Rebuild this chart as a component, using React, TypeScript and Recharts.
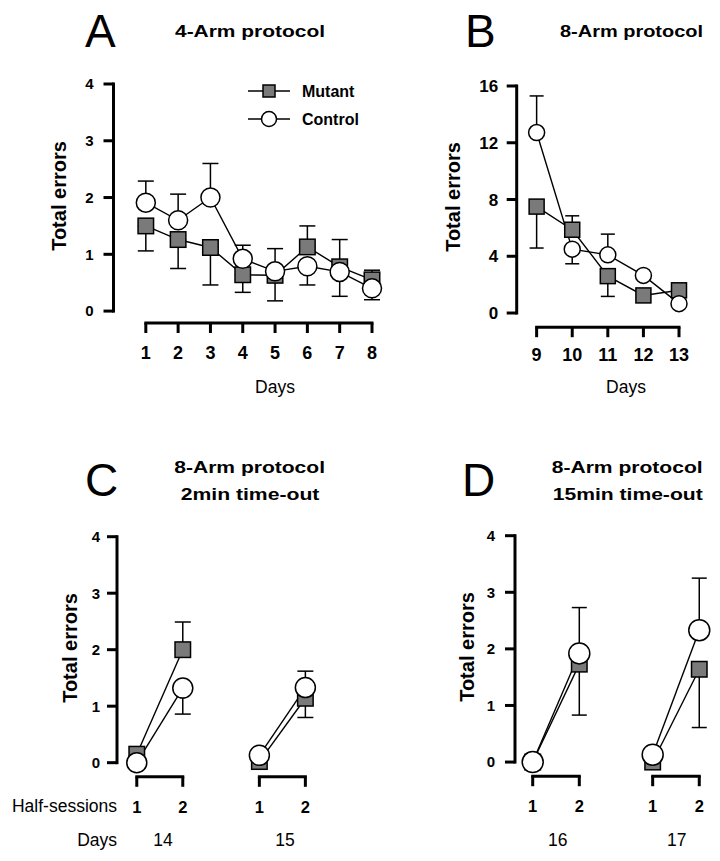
import React from "react"
import { LineChart, Line, XAxis, YAxis, ErrorBar, ReferenceLine } from "recharts"

const FONT = "'Liberation Sans', Arial, Helvetica, sans-serif"

// A: 4-arm protocol, days 1-8 (dir: 1 = bar drawn up, -1 = down, 0 = none)
const daysA = [1, 2, 3, 4, 5, 6, 7, 8]
const mutantA = [1.5, 1.26, 1.12, 0.64, 0.63, 1.13, 0.78, 0.55]
const mutantSemA = [0.44, 0.51, 0.66, 0.31, 0.45, 0.37, 0.48, 0.17]
const mutantDirA = [-1, -1, -1, -1, -1, 1, 1, 1]
const controlA = [1.91, 1.6, 2.0, 0.92, 0.7, 0.79, 0.69, 0.4]
const controlSemA = [0.38, 0.46, 0.6, 0.24, 0.4, 0.33, 0.43, 0.2]
const controlDirA = [1, 1, 1, 1, 1, -1, -1, -1]
const yTicksA = [0, 1, 2, 3, 4]

// B: 8-arm protocol, days 9-13
const daysB = [9, 10, 11, 12, 13]
const mutantB = [7.5, 5.87, 2.6, 1.24, 1.6]
const mutantSemB = [2.92, 0.98, 1.43, 0, 0]
const mutantDirB = [-1, 1, -1, 0, 0]
const controlB = [12.72, 4.5, 4.1, 2.65, 0.66]
const controlSemB = [2.58, 1.03, 1.46, 0, 0]
const controlDirB = [1, -1, 1, 0, 0]
const yTicksB = [0, 4, 8, 12, 16]

// C: 2min time-out, days 14-15, half-sessions 1-2
const halves = [1, 2]
const daysC = [14, 15]
const mutantC = [[0.15, 2.0], [0.02, 1.14]]
const mutantSemC = [[0, 0.49], [0, 0.34]]
const mutantDirC = [[0, 1], [0, -1]]
const controlC = [[0, 1.32], [0.13, 1.33]]
const controlSemC = [[0, 0.46], [0, 0.29]]
const controlDirC = [[0, -1], [0, 1]]

// D: 15min time-out, days 16-17
const daysD = [16, 17]
const mutantD = [[0, 1.73], [0, 1.64]]
const mutantSemD = [[0, 0.9], [0, 1.03]]
const mutantDirD = [[0, -1], [0, -1]]
const controlD = [[0, 1.92], [0.13, 2.33]]
const controlSemD = [[0, 0.81], [0, 0.92]]
const controlDirD = [[0, 1], [0, 1]]
const yTicksCD = [0, 1, 2, 3, 4]

type Row = { x: number; mutant: number; control: number; mutErr: number[] | null; ctlErr: number[] | null }

const errPair = (sem: number, dir: number) => (!sem || !dir ? null : dir > 0 ? [0, sem] : [sem, 0])

const rowsAB = (days: number[], m: number[], ms: number[], md: number[], c: number[], cs: number[], cd: number[]): Row[] =>
  days.map((d, i) => ({
    x: d,
    mutant: m[i],
    control: c[i],
    mutErr: errPair(ms[i], md[i]),
    ctlErr: errPair(cs[i], cd[i]),
  }))

// broken half-session axis: position = offset + dayIndex * step + (half - 1)
const halfPos = (offset: number, step: number) => (g: number, h: number) => offset + g * step + (h - 1)

const groupsCD = (
  days: number[], pos: (g: number, h: number) => number,
  m: number[][], ms: number[][], md: number[][], c: number[][], cs: number[][], cd: number[][]
): Row[][] =>
  days.map((_, g) =>
    halves.map((h, j) => ({
      x: pos(g, h),
      mutant: m[g][j],
      control: c[g][j],
      mutErr: errPair(ms[g][j], md[g][j]),
      ctlErr: errPair(cs[g][j], cd[g][j]),
    }))
  )

const posC = halfPos(0.43, 2.665)
const posD = halfPos(0.38, 2.575)

const squareDot = (s: number) => (p: any) => {
  if (p.cx == null || p.cy == null) return <g key={`e-${p.index}`} />
  return (
    <rect key={`sq-${p.index}`} x={p.cx - s / 2} y={p.cy - s / 2} width={s} height={s}
      fill="#7a7a7a" stroke="#000" strokeWidth={1.5} />
  )
}

type PanelProps = {
  left: number; top: number; width: number; height: number
  margin: { top: number; right: number; bottom: number; left: number }
  xDomain: [number, number]; yDomain: [number, number]
  xTicks: number[]; yTicks: number[]
  xLabel?: (v: number) => string
  xFont: number; xMargin: number; yFont: number; yMargin: number
  groups: Row[][]
  brackets: [number, number][]
  square: number; radius: number; cap: number
}

function Panel(p: PanelProps) {
  const tickLine = { stroke: "#000", strokeWidth: 3 }
  const yTop = p.yTicks[p.yTicks.length - 1]
  return (
    <div style={{ position: "absolute", left: p.left, top: p.top }}>
      <LineChart width={p.width} height={p.height} margin={p.margin}>
        <XAxis type="number" dataKey="x" domain={p.xDomain} ticks={p.xTicks} interval={0}
          axisLine={false} tickLine={tickLine} tickSize={10} tickMargin={p.xMargin}
          tickFormatter={p.xLabel} height={40}
          tick={{ fill: "#000", fontSize: p.xFont, fontWeight: 700, fontFamily: FONT }} />
        <YAxis type="number" domain={p.yDomain} ticks={p.yTicks} interval={0}
          axisLine={false} tickLine={tickLine} tickSize={10} tickMargin={p.yMargin} width={60}
          tick={{ fill: "#000", fontSize: p.yFont, fontWeight: 700, fontFamily: FONT }} />
        <ReferenceLine ifOverflow="visible" stroke="#000" strokeWidth={3} strokeLinecap="square"
          segment={[{ x: p.xDomain[0], y: p.yTicks[0] }, { x: p.xDomain[0], y: yTop }]} />
        {p.brackets.map(([a, b], i) => (
          <ReferenceLine key={`br-${i}`} ifOverflow="visible" stroke="#000" strokeWidth={3} strokeLinecap="square"
            segment={[{ x: a, y: p.yDomain[0] }, { x: b, y: p.yDomain[0] }]} />
        ))}
        {p.groups.map((g, i) => (
          <Line key={`m-${i}`} data={g} dataKey="mutant" stroke="#000" strokeWidth={1.4}
            isAnimationActive={false} activeDot={false} dot={squareDot(p.square)}>
            <ErrorBar dataKey="mutErr" direction="y" width={p.cap} stroke="#000" strokeWidth={1.5} isAnimationActive={false} />
          </Line>
        ))}
        {p.groups.map((g, i) => (
          <Line key={`c-${i}`} data={g} dataKey="control" stroke="#000" strokeWidth={1.4}
            isAnimationActive={false} activeDot={false}
            dot={{ r: p.radius, fill: "#fff", stroke: "#000", strokeWidth: 1.5 }}>
            <ErrorBar dataKey="ctlErr" direction="y" width={p.cap} stroke="#000" strokeWidth={1.5} isAnimationActive={false} />
          </Line>
        ))}
      </LineChart>
    </div>
  )
}

const halfTicks = (days: number[], pos: (g: number, h: number) => number) =>
  days.flatMap((_, g) => halves.map((h) => pos(g, h)))

const halfLabel = (days: number[], pos: (g: number, h: number) => number) => (v: number) => {
  for (let g = 0; g < days.length; g++)
    for (const h of halves) if (Math.abs(pos(g, h) - v) < 1e-6) return String(h)
  return ""
}

const Rotated = ({ x, y, text }: { x: number; y: number; text: string }) => (
  <text transform={`translate(${x},${y}) rotate(-90)`} textAnchor="middle" dominantBaseline="central"
    fontSize={20} fontWeight={700}>{text}</text>
)

export default function App() {
  const groupsA = [rowsAB(daysA, mutantA, mutantSemA, mutantDirA, controlA, controlSemA, controlDirA)]
  const groupsB = [rowsAB(daysB, mutantB, mutantSemB, mutantDirB, controlB, controlSemB, controlDirB)]
  const groupsC = groupsCD(daysC, posC, mutantC, mutantSemC, mutantDirC, controlC, controlSemC, controlDirC)
  const groupsD = groupsCD(daysD, posD, mutantD, mutantSemD, mutantDirD, controlD, controlSemD, controlDirD)

  return (
    <div style={{ position: "absolute", left: 0, top: 0, width: 720, height: 861, background: "#fff", fontFamily: FONT }}>
      <Panel left={0} top={0} width={400} height={400}
        margin={{ top: 84, right: 28, bottom: 37, left: 53.5 }}
        xDomain={[0, 8]} yDomain={[-0.21, 4]} xTicks={daysA} yTicks={yTicksA}
        xFont={18} xMargin={13} yFont={15} yMargin={10}
        groups={groupsA} brackets={[[daysA[0], daysA[daysA.length - 1]]]}
        square={15.5} radius={9.5} cap={8} />
      <Panel left={380} top={0} width={340} height={400}
        margin={{ top: 86, right: 41, bottom: 32.8, left: 76.7 }}
        xDomain={[8.44, 13]} yDomain={[-1, 16]} xTicks={daysB} yTicks={yTicksB}
        xFont={18} xMargin={11} yFont={17} yMargin={8.5}
        groups={groupsB} brackets={[[daysB[0], daysB[daysB.length - 1]]]}
        square={15} radius={8} cap={7} />
      <Panel left={0} top={440} width={380} height={421}
        margin={{ top: 96.7, right: 74.4, bottom: 44.2, left: 57 }}
        xDomain={[0, 4.1]} yDomain={[-0.25, 4]} xTicks={halfTicks(daysC, posC)} yTicks={yTicksCD}
        xLabel={halfLabel(daysC, posC)}
        xFont={16.5} xMargin={14} yFont={15} yMargin={7}
        groups={groupsC} brackets={daysC.map((_, g) => [posC(g, 1), posC(g, 2)] as [number, number])}
        square={15.5} radius={10} cap={8} />
      <Panel left={380} top={440} width={340} height={421}
        margin={{ top: 95.7, right: 20.5, bottom: 44.8, left: 75 }}
        xDomain={[0, 3.96]} yDomain={[-0.25, 4]} xTicks={halfTicks(daysD, posD)} yTicks={yTicksCD}
        xLabel={halfLabel(daysD, posD)}
        xFont={16.5} xMargin={14} yFont={15} yMargin={10}
        groups={groupsD} brackets={daysD.map((_, g) => [posD(g, 1), posD(g, 2)] as [number, number])}
        square={15.5} radius={10.5} cap={7.5} />

      <svg width={720} height={861} style={{ position: "absolute", left: 0, top: 0, pointerEvents: "none" }}
        fontFamily={FONT} fill="#000">
        {/* panel letters */}
        <text x={85} y={47} fontSize={46}>A</text>
        <text x={465} y={47} fontSize={46}>B</text>
        <text x={85} y={496} fontSize={46}>C</text>
        <text x={462} y={496} fontSize={46}>D</text>

        {/* titles */}
        <text x={175} y={36.5} fontSize={16} fontWeight={700} textLength={150} lengthAdjust="spacingAndGlyphs">4-Arm protocol</text>
        <text x={560} y={36.5} fontSize={16} fontWeight={700} textLength={143} lengthAdjust="spacingAndGlyphs">8-Arm protocol</text>
        <text x={174.3} y={473} fontSize={16} fontWeight={700} textLength={150.7} lengthAdjust="spacingAndGlyphs">8-Arm protocol</text>
        <text x={180.7} y={500} fontSize={16} fontWeight={700} textLength={138.7} lengthAdjust="spacingAndGlyphs">2min time-out</text>
        <text x={551.7} y={473} fontSize={16} fontWeight={700} textLength={151} lengthAdjust="spacingAndGlyphs">8-Arm protocol</text>
        <text x={552.7} y={500} fontSize={16} fontWeight={700} textLength={150} lengthAdjust="spacingAndGlyphs">15min time-out</text>

        {/* y titles */}
        <Rotated x={59} y={196} text="Total errors" />
        <Rotated x={453} y={197} text="Total errors" />
        <Rotated x={70} y={648} text="Total errors" />
        <Rotated x={467} y={647} text="Total errors" />

        {/* x titles */}
        <text x={275} y={392.7} fontSize={17.5} textAnchor="middle">Days</text>
        <text x={626} y={393} fontSize={17.5} textAnchor="middle">Days</text>
        <text x={117} y={811.7} fontSize={17.5} textAnchor="end">Half-sessions</text>
        <text x={117} y={845.5} fontSize={17.5} textAnchor="end">Days</text>
        <text x={163} y={845.5} fontSize={17.5} textAnchor="middle">{daysC[0]}</text>
        <text x={285} y={845.5} fontSize={17.5} textAnchor="middle">{daysC[1]}</text>
        <text x={557.7} y={845.5} fontSize={17.5} textAnchor="middle">{daysD[0]}</text>
        <text x={676.7} y={845.5} fontSize={17.5} textAnchor="middle">{daysD[1]}</text>

        {/* legend */}
        <line x1={248} y1={91} x2={290} y2={91} stroke="#000" strokeWidth={1.4} />
        <rect x={263} y={85} width={12} height={12} fill="#7a7a7a" stroke="#000" strokeWidth={1.5} />
        <text x={302} y={97.3} fontSize={16} fontWeight={700}>Mutant</text>
        <line x1={248} y1={119} x2={290} y2={119} stroke="#000" strokeWidth={1.4} />
        <circle cx={269} cy={119} r={7.5} fill="#fff" stroke="#000" strokeWidth={1.5} />
        <text x={302} y={125} fontSize={16} fontWeight={700}>Control</text>
      </svg>
    </div>
  )
}
